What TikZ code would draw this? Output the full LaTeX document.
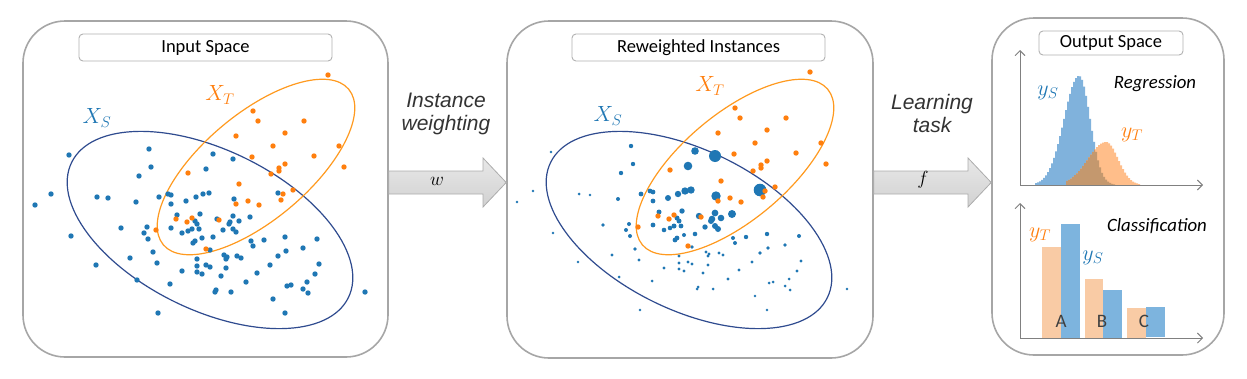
\RequirePackage{fix-cm}
\documentclass[tikz,border=0pt]{standalone}
\usepackage{fontspec}
\setmainfont{Carlito}
\newfontfamily\arialfont{Liberation Sans}
\usetikzlibrary{arrows.meta}

\definecolor{srcblue}{HTML}{1F77B4}
\definecolor{tgtorange}{HTML}{FF7F0E}
\definecolor{srcline}{HTML}{2F4B8F}
\definecolor{tgtline}{HTML}{FF9A1F}
\definecolor{panelgray}{HTML}{A6A6A6}
\definecolor{histblue}{HTML}{80B2DC}
\definecolor{historange}{HTML}{FFBE8A}
\definecolor{histmix}{HTML}{C4986E}
\definecolor{barorange}{HTML}{F9CBA5}
\definecolor{barblue}{HTML}{7DB4DE}

% source instances: x/y/weighted radius
\newcommand\srcpts{69/155/1.3, 149/149/2.2, 151/167/2.2, 139/176/2.2, 213/154/3.8,
  233/159/6.0, 206/169/4.3, 51/194/1.3, 35/205/1.3, 97/197/1.5, 108/198/1.4,
  136/202/2.0, 159/197/2.4, 168/194/2.4, 171/195/2.4, 171/204/2.4, 186/201/3.0,
  196/197/3.2, 203/194/3.7, 209/193/3.7, 234/199/4.7, 278/193/6.3, 177/215/2.5,
  200/214/2.7, 195/221/2.5, 197/224/2.5, 217/219/3.2, 233/216/3.4, 230/222/3.3,
  229/224/3.0, 239/221/3.3, 250/217/4.0, 71/236/1.3, 121/228/1.8, 147/227/2.0,
  144/233/2.0, 148/239/2.0, 171/228/2.4, 182/233/2.3, 188/231/2.3, 192/229/2.5,
  199/229/2.4, 223/230/2.7, 233/229/3.0, 236/232/3.0, 193/243/2.4, 195/241/2.4,
  202/238/2.0, 213/237/2.3, 251/241/2.0, 253/246/2.0, 264/240/2.2, 285/237/2.2,
  317/239/2.0, 96/265/1.3, 130/258/1.7, 153/252/1.8, 157/263/1.7, 210/250/1.8,
  197/259/1.6, 224/255/1.7, 227/257/1.7, 226/259/1.7, 237/256/1.7, 241/258/1.7,
  286/251/1.8, 278/256/1.8, 303/248/1.8, 197/266/1.6, 206/265/1.6, 210/267/1.6,
  226/268/1.6, 270/265/1.6, 319/264/1.6, 137/280/1.5, 182/271/1.6, 197/272/1.6,
  202/274/1.6, 221/276/1.6, 257/273/1.6, 315/274/1.6, 170/284/1.5, 246/282/1.6,
  287/286/1.5, 291/285/1.5, 307/282/1.5, 303/289/1.5, 308/293/1.5, 216/290/1.5,
  215/292/1.5, 231/292/1.5, 273/299/1.4, 158/313/1.3, 285/313/1.3, 365/292/1.3}
% target instances: x/y
\newcommand\tgtpts{328/75, 253/111, 258/121, 304/121, 236/136, 285/133, 273/146,
  339/146, 252/157, 314/156, 285/164, 279/168, 279/171, 344/167, 188/173, 271/174,
  239/184, 293/190, 283/194, 281/200, 236/204, 248/201, 259/205, 176/219, 192/218,
  187/222, 219/220, 156/230, 206/249}

\begin{document}
\begin{tikzpicture}[x=1pt, y=-1pt,
    panel/.style={draw=panelgray, line width=1.6pt, rounded corners=42pt, fill=white},
    titlebox/.style={draw=gray!60, line width=0.9pt, rounded corners=4pt, fill=white,
      inner sep=0pt, font=\fontsize{18.5}{22}\selectfont},
    srcell/.style={draw=srcline, line width=1.2pt},
    tgtell/.style={draw=tgtline, line width=1.2pt},
    mathlbl/.style={font=\fontsize{22}{26}\selectfont, inner sep=0pt},
    arrowtext/.style={font=\arialfont\itshape\fontsize{21}{23}\selectfont,
      text=black!80, align=center},
    blockarrow/.style={draw=gray!65, line width=0.8pt, top color=gray!18, bottom color=gray!36},
    axis/.style={draw=gray, line width=0.9pt, -{Straight Barb[length=5pt,width=10pt]}},
    tasklbl/.style={font=\itshape\fontsize{18.8}{22}\selectfont, inner sep=0pt}]
  \useasboundingbox (0,0) rectangle (1247,378);

  % the three panels and their titles
  \node[panel, minimum width=365, minimum height=336] (inp) at (205.5,189) {};
  \node[panel, minimum width=366, minimum height=337] (rew) at (690,189.5) {};
  \node[panel, minimum width=232, minimum height=337] (outp) at (1108,186.5) {};
  \node[titlebox, minimum width=253, minimum height=27] (inpT) at (205.5,47.5) {Input Space};
  \node[titlebox, minimum width=253, minimum height=27] (rewT) at (698.5,47.5) {Reweighted Instances};
  \node[titlebox, minimum width=144, minimum height=24] (outpT) at (1111,43) {Output Space};

  % input space: both domains
  \draw[srcell, shift={(210,230)}, rotate=-26] (0,0) ellipse [x radius=154, y radius=80];
  \draw[tgtell, shift={(256,167)}, rotate=40] (0,0) ellipse [x radius=121, y radius=53];
  \foreach \px/\py/\w in \srcpts {
    \fill[srcblue] (\px,\py) circle (2.7);
  }
  \foreach \px/\py in \tgtpts {
    \fill[tgtorange] (\px,\py) circle (2.7);
  }
  \node[mathlbl, text=srcblue] (xsA) at (97,118) {$X_S$};
  \node[mathlbl, text=tgtorange] (xtA) at (220,95) {$X_T$};

  % reweighted instances: same points, source radius = weight
  \draw[srcell, shift={(689,230)}, rotate=-26] (0,0) ellipse [x radius=154, y radius=80];
  \draw[tgtell, shift={(735,167)}, rotate=40] (0,0) ellipse [x radius=121, y radius=53];
  \begin{scope}[shift={(482,-3)}]
    \foreach \px/\py/\w in \srcpts {
      \fill[srcblue] (\px,\py) circle (\w);
    }
    \foreach \px/\py in \tgtpts {
      \fill[tgtorange] (\px,\py) circle (2.7);
    }
  \end{scope}
  \node[mathlbl, text=srcblue] (xsB) at (608,116) {$X_S$};
  \node[mathlbl, text=tgtorange] (xtB) at (710,86) {$X_T$};

  % block arrows between the panels
  \coordinate (wmid) at (0,182.5);
  \coordinate (wbase) at (483,0);
  \coordinate (fbase) at (968,0);
  \draw[blockarrow] (inp.east |- 0,171) -- (wbase |- 0,171) -- (wbase |- 0,158)
    -- (rew.west |- wmid) -- (wbase |- 0,207) -- (wbase |- 0,194) -- (inp.east |- 0,194) -- cycle;
  \draw[blockarrow] (rew.east |- 0,171) -- (fbase |- 0,171) -- (fbase |- 0,158)
    -- (outp.west |- wmid) -- (fbase |- 0,207) -- (fbase |- 0,194) -- (rew.east |- 0,194) -- cycle;
  \node[mathlbl, font=\fontsize{19}{22}\selectfont] (wLbl) at (437,181) {$w$};
  \node[mathlbl, font=\fontsize{19}{22}\selectfont] (fLbl) at (923,180) {$f$};
  \node[arrowtext] (wTxt) at (446,113.5) {Instance\\weighting};
  \node[arrowtext] (fTxt) at (932,113.5) {Learning\\task};

  % output space: regression histograms
  \fill[histblue] (1035,185) -- plot[const plot, domain=1035:1115, samples=41]
    (\x,{185-109*exp(-(\x-1078)*(\x-1078)/(2*(\x<1078?15:11)*(\x<1078?15:11)))}) -- (1115,185) -- cycle;
  \fill[historange] (1066,185) -- plot[const plot, domain=1066:1140, samples=38]
    (\x,{185-43*exp(-(\x-1105)*(\x-1105)/(2*(\x<1105?18:12)*(\x<1105?18:12)))}) -- (1140,185) -- cycle;
  \begin{scope}
    \clip (1035,185) -- plot[const plot, domain=1035:1115, samples=41]
      (\x,{185-109*exp(-(\x-1078)*(\x-1078)/(2*(\x<1078?15:11)*(\x<1078?15:11)))}) -- (1115,185) -- cycle;
    \fill[histmix] (1066,185) -- plot[const plot, domain=1066:1140, samples=38]
      (\x,{185-43*exp(-(\x-1105)*(\x-1105)/(2*(\x<1105?18:12)*(\x<1105?18:12)))}) -- (1140,185) -- cycle;
  \end{scope}
  \draw[axis] (1020,185) -- (1020,50);
  \draw[axis] (1020,185) -- (1203,185);
  \node[mathlbl, text=srcblue] (ysR) at (1048,93) {$y_S$};
  \node[mathlbl, text=tgtorange] (ytR) at (1132,135) {$y_T$};
  \node[tasklbl] (regr) at (1155,84) {Regression};

  % output space: classification bars
  \fill[barorange] (1042,338) rectangle (1061,247);
  \fill[barblue] (1061,338) rectangle (1080,224);
  \fill[barorange] (1085,338) rectangle (1103,279);
  \fill[barblue] (1103,338) rectangle (1122,290);
  \fill[barorange] (1127,338) rectangle (1146,308);
  \fill[barblue] (1146,337) rectangle (1165,307);
  \draw[axis] (1020,338) -- (1020,203);
  \draw[axis] (1020,338) -- (1203,338);
  \foreach \cx/\cl in {1061/A, 1102/B, 1144/C} {
    \node[font=\fontsize{19}{22}\selectfont, text=black!75] (cls\cl) at (\cx,321) {\cl};
  }
  \node[mathlbl, text=tgtorange] (ytC) at (1040,235) {$y_T$};
  \node[mathlbl, text=srcblue] (ysC) at (1093,258) {$y_S$};
  \node[tasklbl] (clsf) at (1157,226) {Classification};
\end{tikzpicture}
\end{document}
